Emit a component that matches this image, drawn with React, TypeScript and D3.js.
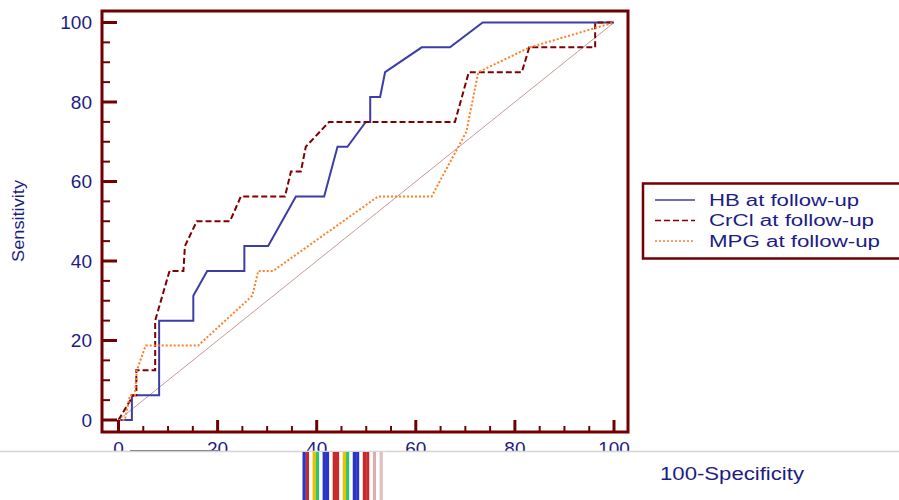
import * as React from 'react'
import * as d3 from 'd3'

// ROC points: [100-Specificity, Sensitivity]
const hbPoints: [number, number][] = [
  [0, 0], [2.7, 0], [2.7, 6.25], [8.2, 6.25], [8.2, 25], [15.1, 25], [15.1, 31.25],
  [17.9, 37.5], [25.4, 37.5], [25.4, 43.75], [30.2, 43.75], [35.8, 56.25], [41.5, 56.25],
  [44.2, 68.75], [46.2, 68.75], [49.9, 75], [50.8, 75], [50.8, 81.25], [52.8, 81.25],
  [53.8, 87.5], [61.2, 93.75], [66.9, 93.75], [73.5, 100], [100, 100],
]
const crclPoints: [number, number][] = [
  [0, 0], [3.0, 6.25], [3.6, 6.25], [3.6, 12.5], [7.4, 12.5], [7.4, 25], [10.3, 37.5],
  [13.1, 37.5], [13.4, 43.75], [15.8, 50], [22.5, 50], [24.7, 56.25], [33.6, 56.25],
  [34.8, 62.5], [36.8, 62.5], [37.8, 68.75], [42.5, 75], [67.9, 75], [70.7, 87.5],
  [81.4, 87.5], [82.9, 93.75], [96.2, 93.75], [96.2, 100], [100, 100],
]
const mpgPoints: [number, number][] = [
  [0, 0], [1.3, 0], [2.3, 6.25], [3.3, 6.25], [3.7, 12.5], [5.5, 18.75], [16.1, 18.75],
  [27.0, 31.25], [28.2, 37.5], [31.2, 37.5], [52.4, 56.25], [63.2, 56.25], [70.2, 72.5],
  [72.6, 87.5], [83, 93.75], [100, 100],
]
const diagonal: [number, number][] = [[0, 0], [100, 100]]

const seriesNames = ['HB at follow-up', 'CrCl at follow-up', 'MPG at follow-up']
const legendWidths = [150, 165, 171]
const majorTicks = [0, 20, 40, 60, 80, 100]
const minorTicks = d3.range(0, 101, 5).filter(v => v % 20 !== 0)

// screen glitch stripes under the axis
const stripeColors = [
  '#2a36c8', '#c82a2a', '#ffffff', '#e6c200', '#2ac86a', '#ffffff', '#2a36c8', '#2a36c8',
  '#ffffff', '#c82a2a', '#c82a2a', '#ffffff', '#e6c200', '#2ac86a', '#ffffff', '#2a36c8',
  '#2a36c8', '#ffffff', '#c82a2a', '#c82a2a', '#ffffff', '#d8b0b0', '#ffffff', '#e0c0c0',
  '#ffffff',
]

const frame = '#720000'
const textBlue = '#1c1c86'

export default function App() {
  const x = d3.scaleLinear().domain([0, 100]).range([118.5, 614])
  const y = d3.scaleLinear().domain([0, 100]).range([420, 22.5])
  const line = d3.line<[number, number]>().x(d => x(d[0])).y(d => y(d[1]))

  const styles = [
    { stroke: '#3d3da8', dash: undefined, width: 2 },
    { stroke: '#800000', dash: '6,3', width: 2 },
    { stroke: '#ff7f27', dash: '2,2', width: 2 },
  ]
  const series = [hbPoints, crclPoints, mpgPoints]

  return (
    <svg width={899} height={500} style={{ position: 'absolute', left: 0, top: 0, background: '#fff' }}
      fontFamily="'Liberation Sans', Arial, sans-serif">
      <rect x={0} y={0} width={899} height={500} fill="#fff" />

      {/* diagonal reference */}
      <path d={line(diagonal) ?? ''} stroke="#c79a9a" strokeWidth={1} fill="none" />

      {series.map((pts, i) => (
        <path key={i} d={line(pts) ?? ''} fill="none" stroke={styles[i].stroke}
          strokeWidth={styles[i].width} strokeDasharray={styles[i].dash} />
      ))}

      {/* frame */}
      <rect x={102} y={11} width={526} height={421} fill="none" stroke={frame} strokeWidth={3} />

      {/* y ticks */}
      {majorTicks.map(t => (
        <g key={'ym' + t}>
          <line x1={102} x2={117} y1={y(t)} y2={y(t)} stroke={frame} strokeWidth={3} />
          <text x={92} y={y(t) + 6.5} textAnchor="end" fontSize={19} fill={textBlue}>{t}</text>
        </g>
      ))}
      {minorTicks.map(t => (
        <line key={'yn' + t} x1={102} x2={110} y1={y(t)} y2={y(t)} stroke={frame} strokeWidth={2} />
      ))}

      {/* x ticks */}
      {majorTicks.map(t => (
        <g key={'xm' + t}>
          <line x1={x(t)} x2={x(t)} y1={432} y2={420} stroke={frame} strokeWidth={3} />
          <text x={x(t)} y={455} textAnchor="middle" fontSize={19} fill={textBlue}>{t}</text>
        </g>
      ))}
      {minorTicks.map(t => (
        <line key={'xn' + t} x1={x(t)} x2={x(t)} y1={432} y2={426} stroke={frame} strokeWidth={2} />
      ))}

      <text transform="translate(24,221) rotate(-90)" textAnchor="middle" fontSize={16} fill={textBlue}
        textLength={82} lengthAdjust="spacingAndGlyphs">Sensitivity</text>

      {/* legend */}
      <rect x={643} y={183.5} width={270} height={75} fill="#fff" stroke={frame} strokeWidth={2.5} />
      {seriesNames.map((name, i) => {
        const cy = 200 + i * 20.5
        return (
          <g key={name}>
            <line x1={655} x2={695} y1={cy} y2={cy} stroke={styles[i].stroke}
              strokeWidth={i === 0 ? 1.5 : 1.5} strokeDasharray={styles[i].dash} />
            <text x={709} y={cy + 5.5} fontSize={16} fill={textBlue}
              textLength={legendWidths[i]} lengthAdjust="spacingAndGlyphs">{name}</text>
          </g>
        )
      })}

      {/* cut-off lower strip */}
      <rect x={0} y={452} width={899} height={48} fill="#fff" />
      <line x1={0} x2={899} y1={451.5} y2={451.5} stroke="#d4d4d4" strokeWidth={1.5} />
      <line x1={130} x2={218} y1={450.5} y2={450.5} stroke="#888" strokeWidth={1} />
      {stripeColors.map((c, i) => (
        <rect key={i} x={302.5 + i * 3.35} y={452} width={3.35} height={48} fill={c} />
      ))}

      <text x={660} y={480} fontSize={18} fill={textBlue} textLength={144}
        lengthAdjust="spacingAndGlyphs">100-Specificity</text>
    </svg>
  )
}
